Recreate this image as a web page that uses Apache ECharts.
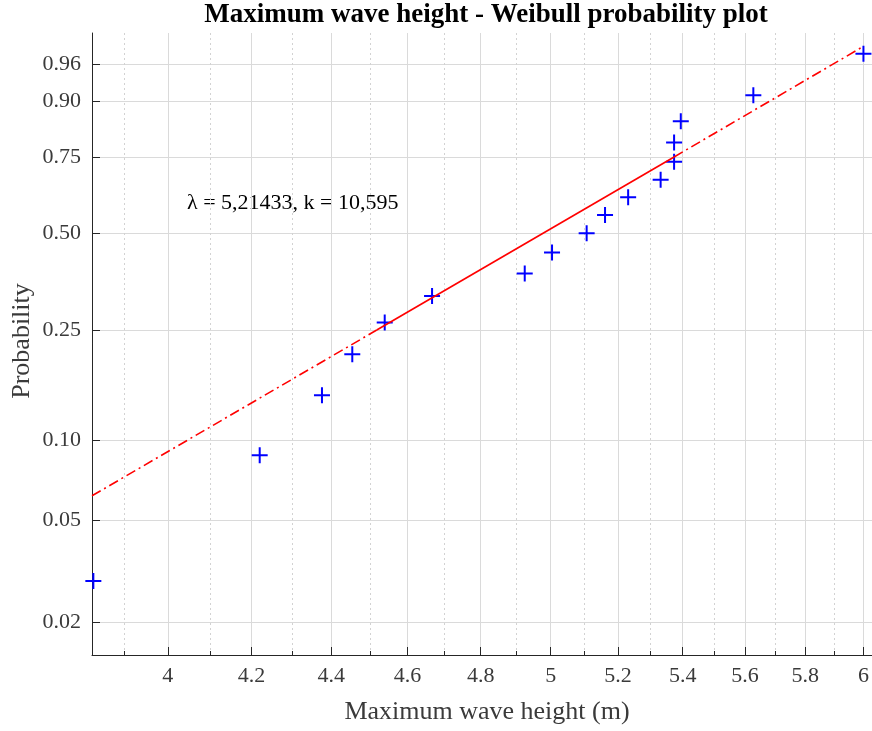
<!DOCTYPE html>
<html><head><meta charset="utf-8">
<script src="https://cdn.jsdelivr.net/npm/echarts@6/dist/echarts.min.js"></script>
<style>html,body{margin:0;padding:0;background:#fff}#c{width:872px;height:731px}</style>
</head><body><div id="c"></div>
<script>
// Observed data (max wave height in m, plotted probability)
const heights = [3.830, 4.220, 4.376, 4.454, 4.539, 4.666, 4.925, 5.004, 5.106, 5.161, 5.231, 5.331, 5.373, 5.373, 5.394, 5.627, 6.000];
const probs   = [0.029, 0.088, 0.147, 0.206, 0.265, 0.324, 0.382, 0.441, 0.500, 0.559, 0.618, 0.676, 0.735, 0.794, 0.853, 0.912, 0.971];
// Reference line: left end, quartile points, right end
const refHeights = [3.827, 4.518, 5.373, 5.990];
const refProbs   = [0.0618, 0.25, 0.75, 0.976];
// Axis ticks and ranges
const xMajorTicks = [4, 4.2, 4.4, 4.6, 4.8, 5, 5.2, 5.4, 5.6, 5.8, 6];
const xMinorTicks = [3.9, 4.1, 4.3, 4.5, 4.7, 4.9, 5.1, 5.3, 5.5, 5.7, 5.9];
const yTicks = [0.02, 0.05, 0.10, 0.25, 0.50, 0.75, 0.90, 0.96];
const xRange = [3.827, 6.03];
const yRange = [0.0149, 0.9861];
const titleText = 'Maximum wave height - Weibull probability plot';
const xLabelText = 'Maximum wave height (m)';
const yLabelText = 'Probability';
const annotText = 'λ = 5,21433, k = 10,595';

const W = p => Math.log(-Math.log(1 - p));
const L = x => Math.log(x);
const FONT = '"Liberation Serif", "Times New Roman", serif';
const AXC = '#262626';

const chart = echarts.init(document.getElementById('c'), null, {renderer: 'canvas'});
const seg = (a, b) => [[L(refHeights[a]), W(refProbs[a])], [L(refHeights[b]), W(refProbs[b])]];
const dashDot = [10, 4, 2, 4];

chart.setOption({
  animation: false,
  backgroundColor: '#fff',
  grid: {left: 92, right: 0, top: 33, bottom: 76, containLabel: false, outerBoundsMode: 'none'},
  xAxis: [{
    type: 'value', min: L(xRange[0]), max: L(xRange[1]), position: 'bottom',
    axisLine: {show: true, onZero: false, lineStyle: {color: AXC, width: 1}},
    axisTick: {show: true, inside: true, length: 8, customValues: xMajorTicks.map(L), lineStyle: {color: AXC}},
    axisLabel: {show: true, customValues: xMajorTicks.map(L), margin: 10, color: '#3a3a3a',
      fontFamily: FONT, fontSize: 22, formatter: v => String(+Math.exp(v).toFixed(1))},
    splitLine: {show: true, lineStyle: {color: '#dadada', width: 1}}
  }, {
    type: 'value', min: L(xRange[0]), max: L(xRange[1]), position: 'bottom', offset: 0,
    axisLine: {show: false, onZero: false},
    axisTick: {show: true, inside: true, length: 4, customValues: xMinorTicks.map(L), lineStyle: {color: AXC}},
    axisLabel: {show: false},
    splitLine: {show: true, lineStyle: {color: '#d2d2d2', width: 1, type: [2, 3]}}
  }],
  yAxis: [{
    type: 'value', min: W(yRange[0]), max: W(yRange[1]),
    axisLine: {show: true, onZero: false, lineStyle: {color: AXC, width: 1}},
    axisTick: {show: true, inside: true, length: 8, customValues: yTicks.map(W), lineStyle: {color: AXC}},
    axisLabel: {show: true, customValues: yTicks.map(W), margin: 11, color: '#3a3a3a',
      fontFamily: FONT, fontSize: 22, formatter: v => (1 - Math.exp(-Math.exp(v))).toFixed(2)},
    splitLine: {show: true, lineStyle: {color: '#dadada', width: 1}}
  }],
  series: [
    {type: 'line', xAxisIndex: 0, data: seg(0, 1), symbol: 'none', silent: true,
     lineStyle: {color: '#ff0000', width: 1.6, type: dashDot}},
    {type: 'line', xAxisIndex: 0, data: seg(1, 2), symbol: 'none', silent: true,
     lineStyle: {color: '#ff0000', width: 1.6, type: 'solid'}},
    {type: 'line', xAxisIndex: 0, data: seg(2, 3), symbol: 'none', silent: true,
     lineStyle: {color: '#ff0000', width: 1.6, type: dashDot}},
    {type: 'scatter', xAxisIndex: 0, clip: false,
     data: heights.map((h, i) => [L(h), W(probs[i])]),
     symbol: 'path://M7,0H9V7H16V9H9V16H7V9H0V7H7Z', symbolSize: 16,
     itemStyle: {color: '#0000ff', opacity: 1}}
  ],
  graphic: [
    {type: 'text', x: 486, y: 15, style: {text: titleText, fill: '#000', fontFamily: FONT, fontSize: 27, fontWeight: 'bold', align: 'center', verticalAlign: 'middle'}},
    {type: 'text', x: 487, y: 712, style: {text: xLabelText, fill: '#3a3a3a', fontFamily: FONT, fontSize: 26, align: 'center', verticalAlign: 'middle'}},
    {type: 'text', x: 22, y: 341, rotation: Math.PI / 2, style: {text: yLabelText, fill: '#3a3a3a', fontFamily: FONT, fontSize: 26, align: 'center', verticalAlign: 'middle'}},
    {type: 'text', x: 187, y: 203, style: {text: annotText, fill: '#000', fontFamily: FONT, fontSize: 22, align: 'left', verticalAlign: 'middle'}}
  ]
});
</script></body></html>
